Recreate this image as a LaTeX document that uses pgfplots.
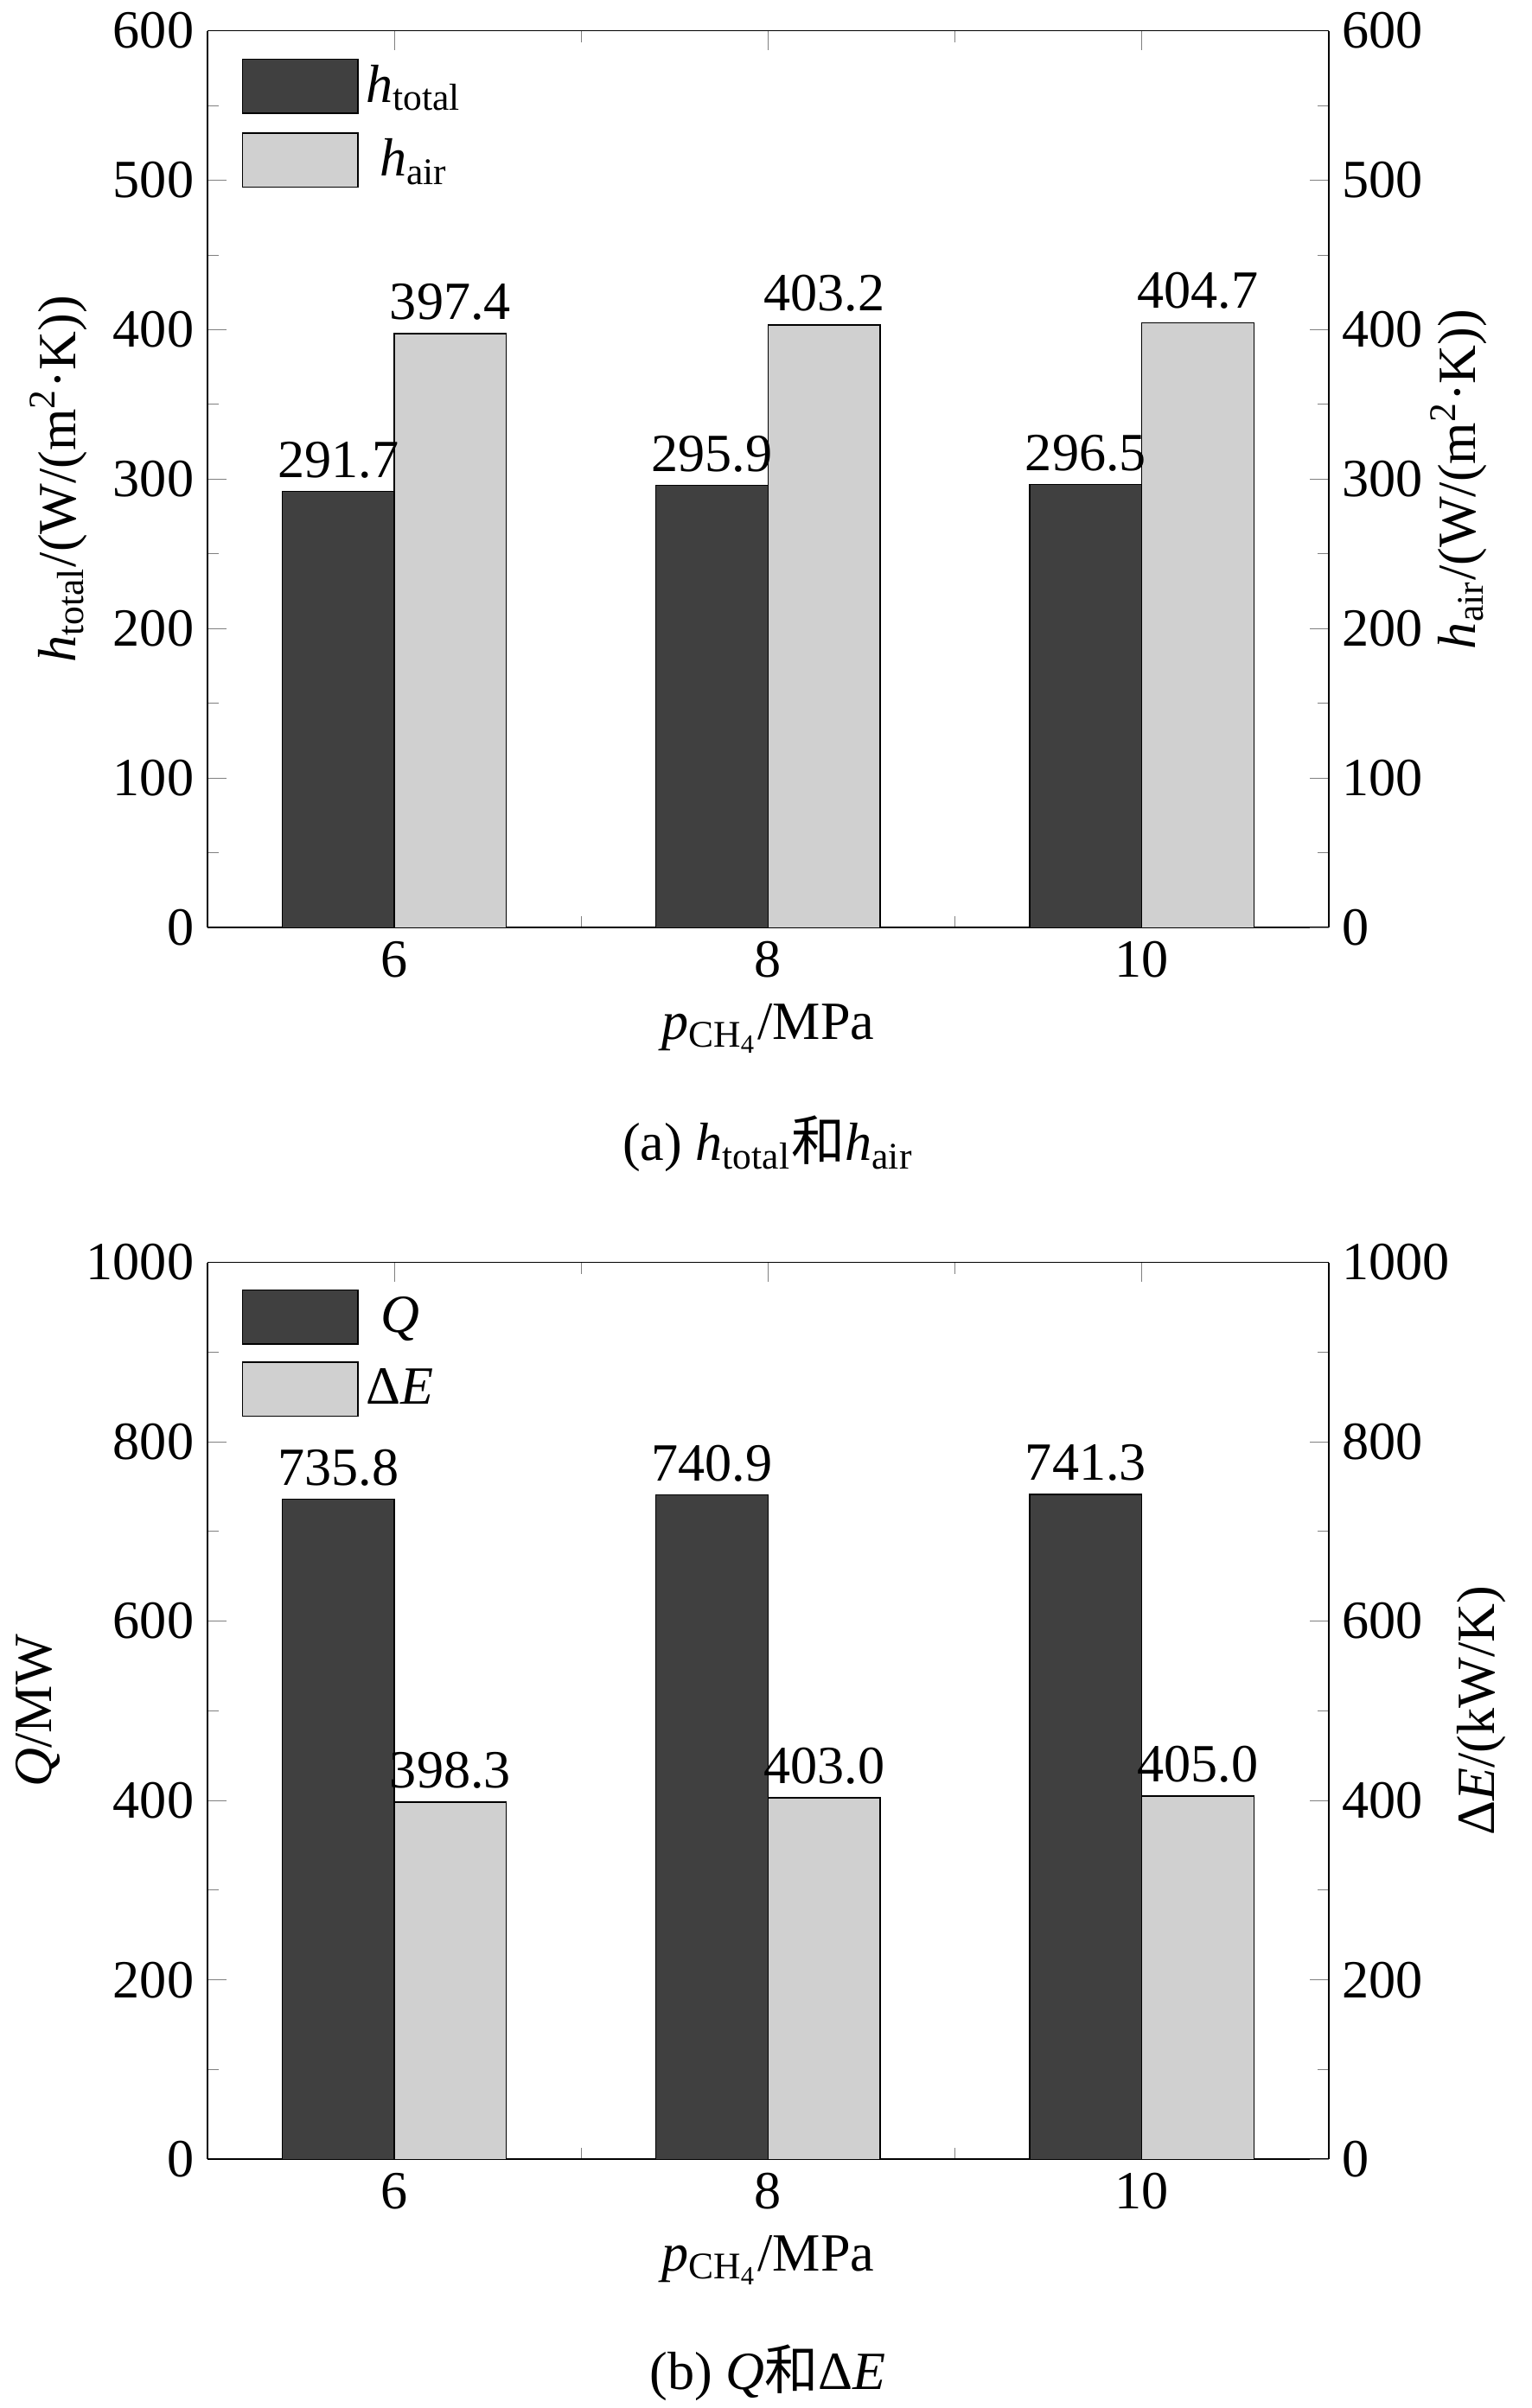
\documentclass[border=0pt]{standalone}
\usepackage{pgfplots}
\pgfplotsset{compat=1.18}
\usepackage{fontspec}
\setmainfont{Liberation Serif}
\newfontfamily\cjk{Noto Sans CJK SC}
\definecolor{dk}{HTML}{404040}
\definecolor{lt}{HTML}{D0D0D0}
\pgfplotsset{
  base/.style={scale only axis, width=292pt, height=233.6pt,
    xmin=-0.5, xmax=2.5, xtick={0,1,2}, xticklabels={6,8,10},
    minor xtick={0.5,1.5}, tick align=inside, tickwidth=5pt, subtickwidth=3pt,
    /pgf/number format/assume math mode=true, /pgf/number format/1000 sep={},
    ticklabel style={font=\fontsize{14}{16}\selectfont},
    label style={font=\fontsize{14}{16}\selectfont},
    minor y tick num=1, ymin=0},
  boxleg/.style={legend image code/.code={\draw[##1,draw=black,line width=0.3pt] (0pt,-7pt) rectangle (30pt,7pt);}},
  bars/.style={ybar, bar width=0.3, bar shift=0pt, draw=black, line width=0.3pt,
    nodes near coords={\pgfmathprintnumber[fixed,fixed zerofill,precision=1]{\pgfplotspointmeta}},
    every node near coord/.append style={font=\fontsize{14}{16}\selectfont, /pgf/number format/assume math mode=true}}
}
\begin{document}
\begin{tikzpicture}
\path[use as bounding box] (0,0) rectangle (398.8pt,-627.2pt);
% top
\begin{axis}[base, at={(54pt,-8pt)}, anchor=north west, ymax=600, ytick={0,100,...,600},
  axis y line*=left, ylabel={\textit{h}\textsubscript{total}/(W/(m\textsuperscript{2}·K))},
  xlabel={\textit{p}\textsubscript{CH\textsubscript{4}}/MPa},
  legend style={draw=none, fill=none, at={(0.02,0.98)}, anchor=north west, font=\fontsize{14}{16}\selectfont, row sep=4pt},
  boxleg]
\addplot[bars, fill=dk] coordinates {(-0.15,291.7) (0.85,295.9) (1.85,296.5)};
\addplot[bars, fill=lt] coordinates {(0.15,397.4) (1.15,403.2) (2.15,404.7)};
\legend{\textit{h}\textsubscript{total},\textit{h}\textsubscript{air}}
\end{axis}
\begin{axis}[base, at={(54pt,-8pt)}, anchor=north west, ymax=600, ytick={0,100,...,600},
  axis y line*=right, axis x line*=top, xticklabels={}, ylabel shift=-5pt,
  ylabel={\textit{h}\textsubscript{air}/(W/(m\textsuperscript{2}·K))}]
\addplot[draw=none] coordinates {(0,0)};
\end{axis}
\node[font=\fontsize{14}{16}\selectfont] at (200pt,-298pt) {(a) \textit{h}\textsubscript{total}{\cjk 和}\textit{h}\textsubscript{air}};
% bottom
\begin{axis}[base, at={(54pt,-328.8pt)}, anchor=north west, ymax=1000, ytick={0,200,...,1000},
  axis y line*=left, ylabel={\textit{Q}/MW},
  xlabel={\textit{p}\textsubscript{CH\textsubscript{4}}/MPa},
  legend style={draw=none, fill=none, at={(0.02,0.98)}, anchor=north west, font=\fontsize{14}{16}\selectfont, row sep=4pt},
  boxleg]
\addplot[bars, fill=dk] coordinates {(-0.15,735.8) (0.85,740.9) (1.85,741.3)};
\addplot[bars, fill=lt] coordinates {(0.15,398.3) (1.15,403.0) (2.15,405.0)};
\legend{\textit{Q},Δ\textit{E}}
\end{axis}
\begin{axis}[base, at={(54pt,-328.8pt)}, anchor=north west, ymax=1000, ytick={0,200,...,1000},
  axis y line*=right, axis x line*=top, xticklabels={}, ylabel shift=-5pt,
  ylabel={Δ\textit{E}/(kW/K)}]
\addplot[draw=none] coordinates {(0,0)};
\end{axis}
\node[font=\fontsize{14}{16}\selectfont] at (200pt,-618pt) {(b) \textit{Q}{\cjk 和}Δ\textit{E}};
\end{tikzpicture}
\end{document}
